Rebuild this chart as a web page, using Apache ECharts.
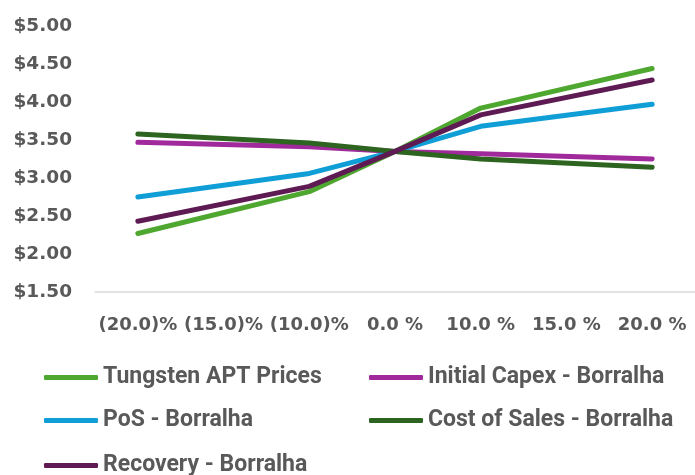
<!DOCTYPE html>
<html><head><meta charset="utf-8">
<script src="https://cdn.jsdelivr.net/npm/echarts@6/dist/echarts.min.js"></script>
<style>html,body{margin:0;padding:0;background:#fff}#c{width:695px;height:475px}</style>
</head><body><div id="c"></div>
<script>
const categories = ['(20.0)%', '(15.0)%', '(10.0)%', '0.0 %', '10.0 %', '15.0 %', '20.0 %'];
const tungsten = [2.27, null, 2.82, 3.35, 3.92, null, 4.44];
const capex    = [3.47, null, 3.41, 3.35, 3.32, null, 3.25];
const pos      = [2.75, null, 3.06, 3.35, 3.68, null, 3.97];
const costSales= [3.58, null, 3.46, 3.35, 3.25, null, 3.14];
const recovery = [2.43, null, 2.89, 3.35, 3.83, null, 4.29];
const names = ['Tungsten APT Prices', 'Initial Capex - Borralha', 'PoS - Borralha', 'Cost of Sales - Borralha', 'Recovery - Borralha'];
const colors = ['#4EA72E', '#A0299B', '#0F9ED5', '#2D6420', '#5E1A52'];
const values = [tungsten, capex, pos, costSales, recovery];

const txt = '#595959';
const axisFont = '"DejaVu Sans", sans-serif';
const legendFont = {color: txt, fontSize: 23, fontWeight: 'bold', fontFamily: 'Roboto, "Noto Sans", sans-serif'};
const legendPos = [[44, 366], [369, 366], [44, 409], [369, 409], [44, 454]];
const chart = echarts.init(document.getElementById('c'), null, {renderer: 'canvas'});
chart.setOption({
  animation: false,
  grid: {left: 95, right: 0, top: 26, bottom: 183, containLabel: false},
  xAxis: {
    type: 'category', data: categories, boundaryGap: true,
    axisLine: {lineStyle: {color: '#D9D9D9', width: 1.5}},
    axisTick: {show: false},
    axisLabel: {color: txt, fontSize: 18, fontWeight: 'bold', fontFamily: axisFont, margin: 24, interval: 0}
  },
  yAxis: {
    type: 'value', min: 1.5, max: 5, interval: 0.5,
    splitLine: {show: false}, axisLine: {show: false}, axisTick: {show: false},
    axisLabel: {color: txt, fontSize: 18.5, fontWeight: 'bold', fontFamily: axisFont, margin: 23,
      formatter: v => '$' + v.toFixed(2)}
  },
  legend: names.map((n, i) => ({
    data: [n], left: legendPos[i][0], top: legendPos[i][1], padding: 0,
    itemWidth: 54, itemHeight: 5, icon: 'roundRect', textStyle: legendFont
  })),
  series: names.map((n, i) => ({
    name: n, type: 'line', data: values[i], connectNulls: true,
    showSymbol: false, symbol: 'none', color: colors[i],
    lineStyle: {color: colors[i], width: 5, cap: 'round', join: 'round'}
  }))
});
</script></body></html>
